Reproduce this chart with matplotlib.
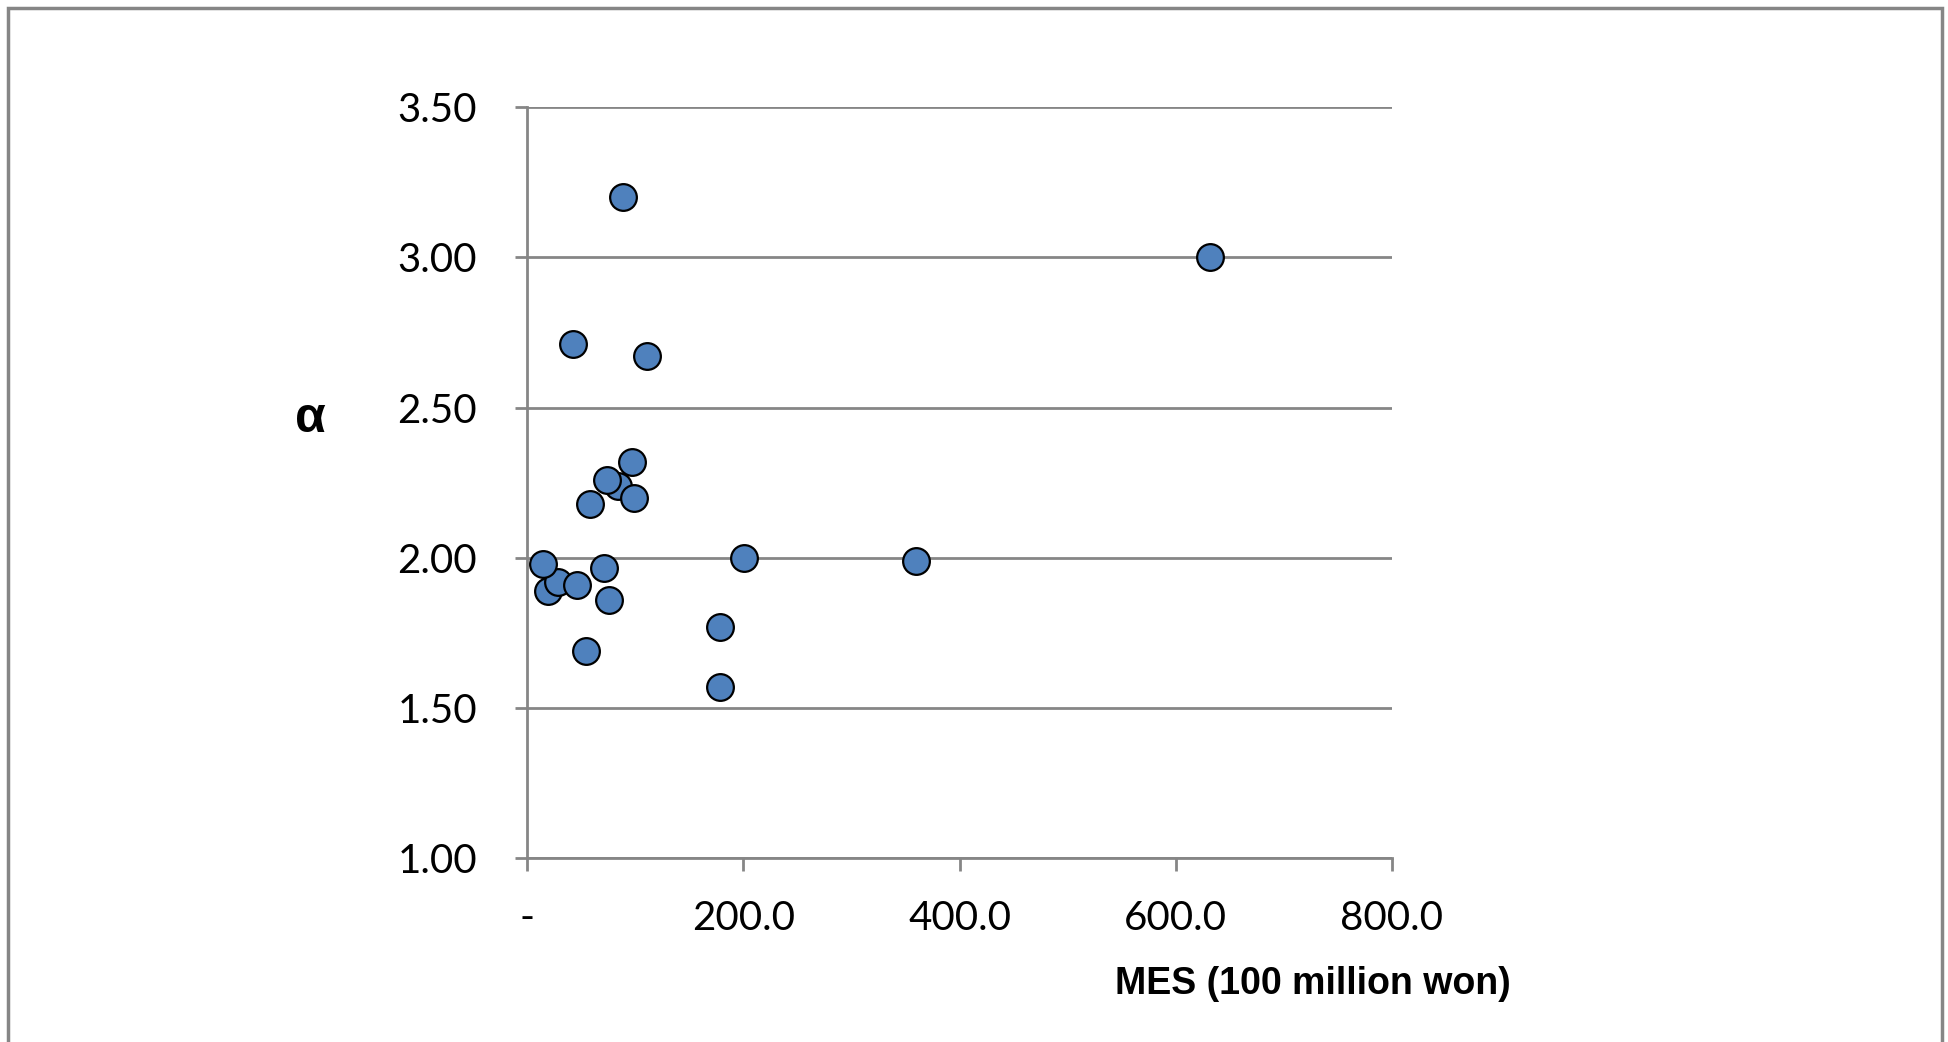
import matplotlib
matplotlib.use("Agg")
import matplotlib.pyplot as plt
from matplotlib.patches import Rectangle

# MES (100 million won) and alpha for each firm
mes = [632.0, 359.7, 200.3, 178.1, 178.1, 88.6, 42.2, 110.8, 84.0, 96.9,
       74.2, 98.8, 57.9, 19.1, 28.3, 46.1, 14.2, 70.8, 75.7, 54.5]
alpha = [3.00, 1.99, 2.00, 1.77, 1.57, 3.20, 2.71, 2.67, 2.24, 2.32,
         2.26, 2.20, 2.18, 1.89, 1.92, 1.91, 1.98, 1.965, 1.86, 1.69]

xticks = [0, 200, 400, 600, 800]
xticklabels = ["-", "200.0", "400.0", "600.0", "800.0"]
yticks = [1.0, 1.5, 2.0, 2.5, 3.0, 3.5]
yticklabels = ["1.00", "1.50", "2.00", "2.50", "3.00", "3.50"]

grey = "#868686"

fig = plt.figure(figsize=(19.49, 10.42), dpi=100)
ax = fig.add_axes([0.2705, 0.1763, 0.4437, 0.7210])

ax.scatter(mes, alpha, s=370, c="#4F81BD", edgecolors="black",
           linewidths=1.6, zorder=3)

ax.set_xlim(0, 800)
ax.set_ylim(1.0, 3.5)
ax.set_xticks(xticks)
ax.set_xticklabels(xticklabels)
ax.set_yticks(yticks)
ax.set_yticklabels(yticklabels)

ax.grid(axis="y", color=grey, linewidth=2)
ax.set_axisbelow(True)
for side in ["top", "right"]:
    ax.spines[side].set_visible(False)
for side in ["left", "bottom"]:
    ax.spines[side].set_color(grey)
    ax.spines[side].set_linewidth(2)

ax.tick_params(axis="both", direction="out", length=9, width=2, color=grey,
               labelsize=29, labelcolor="black")
ax.tick_params(axis="y", pad=27)
ax.tick_params(axis="x", pad=21)
for lab in ax.get_xticklabels() + ax.get_yticklabels():
    lab.set_family("Lato")

fig.text(0.1595, 0.598, "α", fontsize=36, fontweight="bold",
         family="Liberation Sans", ha="center", va="center")
fig.text(0.6735, 0.056, "MES (100 million won)", fontsize=27,
         fontweight="bold", family="Liberation Sans", ha="center", va="center")

# outer chart frame (bottom edge falls outside the picture)
fig.patches.append(Rectangle((8 / 1949, -0.05), (1942 - 8) / 1949, 1.05 - 8 / 1042,
                             transform=fig.transFigure, fill=False,
                             edgecolor=grey, linewidth=2.5))

fig.savefig("out.png", dpi=100)
